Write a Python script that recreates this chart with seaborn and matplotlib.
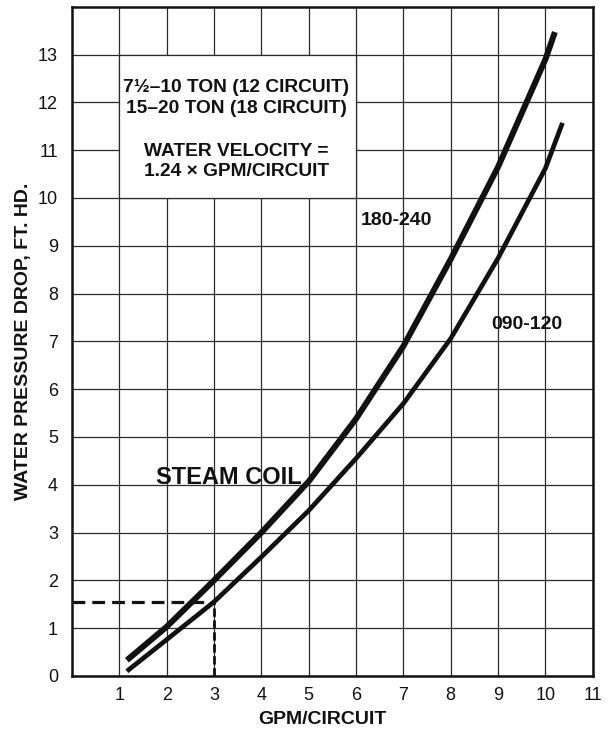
import pandas as pd
import matplotlib
matplotlib.use("Agg")
import matplotlib.pyplot as plt
import seaborn as sns
from matplotlib.patches import Rectangle

# Water pressure drop (ft. hd.) vs GPM per circuit
gpm_180_240 = [1.16, 2, 3, 4, 5, 6, 7, 8, 9, 10, 10.2]
drop_180_240 = [0.33, 1.03, 2.0, 3.0, 4.07, 5.38, 6.9, 8.72, 10.65, 12.9, 13.47]

gpm_090_120 = [1.16, 2, 3, 4, 5, 6, 7, 8, 9, 10, 10.36]
drop_090_120 = [0.1, 0.76, 1.55, 2.49, 3.46, 4.55, 5.7, 7.06, 8.74, 10.62, 11.57]

# worked example: 3 gpm/circuit -> 1.55 ft. hd.
example_gpm = 3
example_drop = 1.55

x_ticks = list(range(1, 12))
y_ticks = list(range(0, 14))

df = pd.concat([
    pd.DataFrame({"gpm": gpm_180_240, "drop": drop_180_240, "model": "180-240"}),
    pd.DataFrame({"gpm": gpm_090_120, "drop": drop_090_120, "model": "090-120"}),
])

sns.set_theme(style="white")
plt.rcParams["font.family"] = ["Liberation Sans", "DejaVu Sans"]

fig = plt.figure(figsize=(6.12, 7.3), dpi=100)
ax = fig.add_axes([0.1176, 0.074, 0.851, 0.9168])

sns.lineplot(data=df, x="gpm", y="drop", hue="model",
             palette={"180-240": "#111111", "090-120": "#111111"},
             estimator=None, sort=False, legend=False, ax=ax, zorder=4)
widths = {"180-240": 4.3, "090-120": 3.4}
for line, name in zip(ax.lines, ["180-240", "090-120"]):
    line.set_linewidth(widths[name])
    line.set_solid_capstyle("butt")
    line.set_solid_joinstyle("round")

# dashed read-off lines
ax.plot([0, example_gpm], [example_drop, example_drop], color="#111111",
        lw=2.3, ls=(0, (4, 2.2)), zorder=3)
ax.plot([example_gpm, example_gpm], [0, example_drop], color="#111111",
        lw=2.0, ls=(0, (3, 1.3)), zorder=3)

ax.set_xlim(0, 11)
ax.set_ylim(0, 14)
ax.set_xticks(x_ticks)
ax.set_yticks(y_ticks)
ax.grid(True, color="#2a2a2a", lw=0.9)
ax.set_axisbelow(True)
ax.tick_params(length=0, labelsize=13, colors="#111111")
ax.tick_params(axis="y", pad=10)
ax.tick_params(axis="x", pad=8)
for s in ax.spines.values():
    s.set_visible(True)
    s.set_color("#111111")
    s.set_linewidth(1.8)

# white note box over the grid
ax.add_patch(Rectangle((1, 10), 5, 3, facecolor="white", edgecolor="#2a2a2a",
                       lw=0.9, zorder=2))
note = dict(ha="center", va="center", fontsize=13.8, fontweight="bold",
            color="#111111", zorder=5)
ax.text(3.47, 12.31, "7½–10 TON (12 CIRCUIT)", **note)
ax.text(3.47, 11.88, "15–20 TON (18 CIRCUIT)", **note)
ax.text(3.47, 10.97, "WATER VELOCITY =", **note)
ax.text(3.47, 10.55, "1.24 × GPM/CIRCUIT", **note)

ax.text(3.32, 4.15, "STEAM COIL", ha="center", va="center", fontsize=17,
        fontweight="bold", color="#111111", zorder=5)
ax.text(6.85, 9.53, "180-240", ha="center", va="center", fontsize=14,
        fontweight="bold", color="#111111", zorder=5)
ax.text(9.6, 7.36, "090-120", ha="center", va="center", fontsize=14,
        fontweight="bold", color="#111111", zorder=5)

ax.set_xlabel("GPM/CIRCUIT", fontsize=14, fontweight="bold", color="#111111")
ax.set_ylabel("WATER PRESSURE DROP, FT. HD.", fontsize=14, fontweight="bold",
              color="#111111")
ax.xaxis.set_label_coords(0.48, -0.052)
ax.yaxis.set_label_coords(-0.077, 0.5)

fig.savefig("out.png", dpi=100)
